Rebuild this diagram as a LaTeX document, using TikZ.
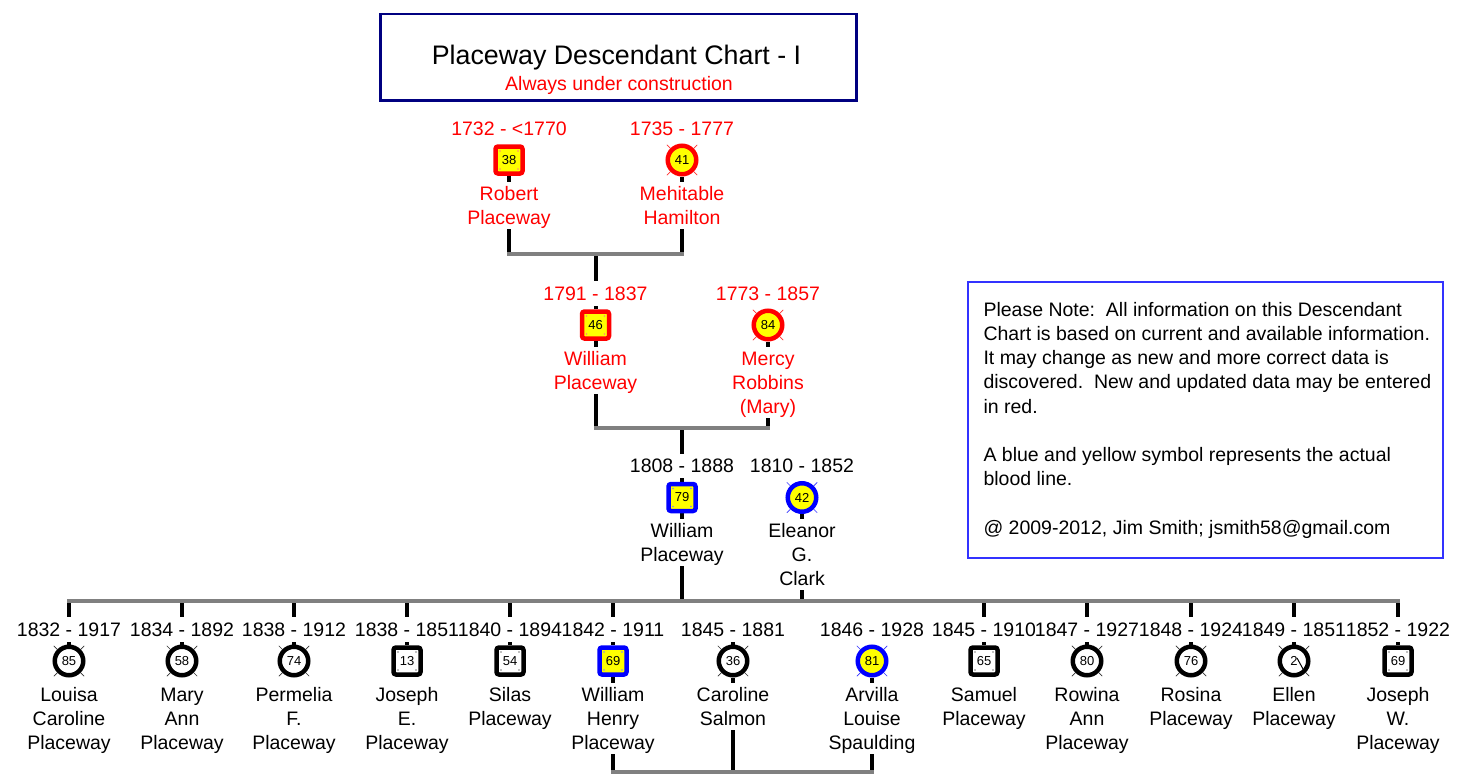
\documentclass[tikz,border=0pt]{standalone}
\usepackage{fontspec}
\setmainfont{Liberation Sans}
\usetikzlibrary{backgrounds}
\definecolor{chartred}{RGB}{255,0,0}
\definecolor{symyellow}{RGB}{255,255,0}
\definecolor{symblue}{RGB}{0,0,255}
\definecolor{linegray}{RGB}{128,128,128}
\definecolor{navy}{RGB}{0,0,128}
\definecolor{noteblue}{RGB}{51,51,255}
\newcommand{\ntop}{\rule{0pt}{18.5pt}}
\newcommand{\sqsym}[5]{%
  \node[sqs, draw=#3, fill=#4] (#1) at #2 {#5};
  \foreach \dx/\dy in {-9/-9,9/-9,9/9,-9/9}
    \fill[#3!50!white] ([shift={(\dx,\dy)}]#1.center) circle (0.9);
}
\newcommand{\cisym}[5]{%
  \node[cis, draw=#3, fill=#4] (#1) at #2 {#5};
  \foreach \a in {45,135,225,315}
    \draw[#3!80!white, line width=0.7pt] ([shift={(\a:16.5)}]#1.center) -- ([shift={(\a:21.5)}]#1.center);
}
\tikzset{
  txt/.style={font=\fontsize{19.5}{24}\selectfont},
  datet/.style={txt, fill=white, inner xsep=0pt, inner ysep=4pt, text height=15pt, text depth=1.5pt, anchor=base},
  namet/.style={txt, fill=white, inner sep=0pt, align=center, anchor=north, text depth=4.5pt},
  sqs/.style={rectangle, minimum size=27pt, line width=4.5pt, rounded corners=2.5pt, inner sep=0pt, font=\fontsize{13}{13}\selectfont},
  cis/.style={circle, minimum size=28.5pt, line width=4.5pt, inner sep=0pt, font=\fontsize{13}{13}\selectfont},
  vl/.style={line width=4pt, black},
  hl/.style={line width=4pt, linegray, line cap=rect},
  red/.style={text=chartred}
}
\begin{document}
\begin{tikzpicture}[x=1pt,y=-1pt]
\useasboundingbox (0,0) rectangle (1481,784);

% title
\node[draw=navy, line width=2.5pt, minimum width=476pt, minimum height=86pt, inner sep=0pt, anchor=north west] (titlebox) at (379,13) {};
\node[font=\fontsize{26.8}{27}\selectfont, anchor=base, inner sep=0pt] (title) at (616.5,65) {Placeway Descendant Chart - I};
\node[font=\fontsize{19.5}{20}\selectfont, red, anchor=base, inner sep=0pt] (subtitle) at (619,90) {Always under construction};

% note
\node[draw=noteblue, line width=1.5pt, minimum width=475pt, minimum height=276pt, inner sep=0pt, anchor=north west] (notebox) at (967,281) {};
\node[font=\fontsize{19.5}{24.2}\selectfont, anchor=north west, inner sep=0pt, align=left] (note) at (983.3,302) {\frenchspacing
Please Note:\ \ All information on this Descendant\\
Chart is based on current and available information.\\
It may change as new and more correct data is\\
discovered.\ \ New and updated data may be entered\\
in red.\\[24.2pt]
A blue and yellow symbol represents the actual\\
blood line.\\[24.2pt]
@ 2009-2012, Jim Smith; jsmith58@gmail.com};

% generation 1
\node[datet, red] (d38) at (509,135) {1732 - <1770};
\sqsym{s38}{(509,160)}{chartred}{symyellow}{38}
\node[namet, red] (n38) at (509,181.5) {\ntop Robert\\Placeway};
\node[datet, red] (d41) at (682,135) {1735 - 1777};
\cisym{s41}{(682,160)}{chartred}{symyellow}{41}
\node[namet, red] (n41) at (682,181.5) {\ntop Mehitable\\Hamilton};

% generation 2
\node[datet, red] (d46) at (595.5,300) {1791 - 1837};
\sqsym{s46}{(595.5,325)}{chartred}{symyellow}{46}
\node[namet, red] (n46) at (595.5,346.5) {\ntop William\\Placeway};
\node[datet, red] (d84) at (768,300) {1773 - 1857};
\cisym{s84}{(768,325)}{chartred}{symyellow}{84}
\node[namet, red] (n84) at (768,346.5) {\ntop Mercy\\Robbins\\(Mary)};

% generation 3
\node[datet] (d79) at (682,472.5) {1808 - 1888};
\sqsym{s79}{(682,497.5)}{symblue}{symyellow}{79}
\node[namet] (n79) at (682,519) {\ntop William\\Placeway};
\node[datet] (d42) at (802,472.5) {1810 - 1852};
\cisym{s42}{(802,497.5)}{symblue}{symyellow}{42}
\node[namet] (n42) at (802,519) {\ntop Eleanor\\G.\\Clark};

% children
\node[datet] (d1) at (69,636) {1832 - 1917};
\cisym{c1}{(69,661)}{black}{white}{85}
\node[namet] (n1) at (69,682.5) {\ntop Louisa\\Caroline\\Placeway};
\node[datet] (d2) at (182,636) {1834 - 1892};
\cisym{c2}{(182,661)}{black}{white}{58}
\node[namet] (n2) at (182,682.5) {\ntop Mary\\Ann\\Placeway};
\node[datet] (d3) at (294,636) {1838 - 1912};
\cisym{c3}{(294,661)}{black}{white}{74}
\node[namet] (n3) at (294,682.5) {\ntop Permelia\\F.\\Placeway};
\node[datet] (d4) at (407,636) {1838 - 1851};
\sqsym{c4}{(407,661)}{black}{white}{13}
\node[namet] (n4) at (407,682.5) {\ntop Joseph\\E.\\Placeway};
\node[datet] (d5) at (510,636) {1840 - 1894};
\sqsym{c5}{(510,661)}{black}{white}{54}
\node[namet] (n5) at (510,682.5) {\ntop Silas\\Placeway};
\node[datet] (d6) at (613,636) {1842 - 1911};
\sqsym{c6}{(613,661)}{symblue}{symyellow}{69}
\node[namet] (n6) at (613,682.5) {\ntop William\\Henry\\Placeway};
\node[datet] (d7) at (733,636) {1845 - 1881};
\cisym{c7}{(733,661)}{black}{white}{36}
\node[namet] (n7) at (733,682.5) {\ntop Caroline\\Salmon};
\node[datet] (d8) at (872,636) {1846 - 1928};
\cisym{c8}{(872,661)}{symblue}{symyellow}{81}
\node[namet] (n8) at (872,682.5) {\ntop Arvilla\\Louise\\Spaulding};
\node[datet] (d9) at (984,636) {1845 - 1910};
\sqsym{c9}{(984,661)}{black}{white}{65}
\node[namet] (n9) at (984,682.5) {\ntop Samuel\\Placeway};
\node[datet] (d10) at (1087,636) {1847 - 1927};
\cisym{c10}{(1087,661)}{black}{white}{80}
\node[namet] (n10) at (1087,682.5) {\ntop Rowina\\Ann\\Placeway};
\node[datet] (d11) at (1191,636) {1848 - 1924};
\cisym{c11}{(1191,661)}{black}{white}{76}
\node[namet] (n11) at (1191,682.5) {\ntop Rosina\\Placeway};
\node[datet] (d12) at (1294,636) {1849 - 1851};
\cisym{c12}{(1294,661)}{black}{white}{2}
\draw[black, line width=1pt] ([shift={(3,-3)}]c12.center) -- ([shift={(9,8)}]c12.center);
\node[namet] (n12) at (1294,682.5) {\ntop Ellen\\Placeway};
\node[datet] (d13) at (1398,636) {1852 - 1922};
\sqsym{c13}{(1398,661)}{black}{white}{69}
\node[namet] (n13) at (1398,682.5) {\ntop Joseph\\W.\\Placeway};

% junctions
\coordinate (j1) at (595.5,254);
\coordinate (j2) at (682,428);
\coordinate (j3l) at (69,601);
\coordinate (j3r) at (1398,601);
\coordinate (j4) at (733,772);
\coordinate (c7top) at (733,640);

\begin{scope}[on background layer]
  \fill[white] (0,0) rectangle (1481,784);
  % gen 1
  \draw[vl] (s38) -- (s38 |- j1);
  \draw[vl] (s41) -- (s41 |- j1);
  \draw[vl] (j1) -- (s46);
  \draw[hl] (s38 |- j1) -- (s41 |- j1);
  % gen 2
  \draw[vl] (s46) -- (s46 |- j2);
  \draw[vl] (s84) -- (s84 |- j2);
  \draw[vl] (j2) -- (s79);
  \draw[hl] (s46 |- j2) -- (s84 |- j2);
  % gen 3
  \draw[vl] (s79) -- (s79 |- j3l);
  \draw[vl] (s42) -- (s42 |- j3l);
  \foreach \c in {c1,c2,c3,c4,c5,c6,c9,c10,c11,c12,c13}
    \draw[vl] (\c |- j3l) -- (\c);
  \draw[hl] (j3l) -- (j3r);
  % William Henry and spouses
  \draw[vl] (c7top) -- (c7);
  \draw[vl] (c6) -- (c6 |- j4);
  \draw[vl] (c7) -- (c7 |- j4);
  \draw[vl] (c8) -- (c8 |- j4);
  \draw[hl] (c6 |- j4) -- (c8 |- j4);
\end{scope}
\end{tikzpicture}
\end{document}
